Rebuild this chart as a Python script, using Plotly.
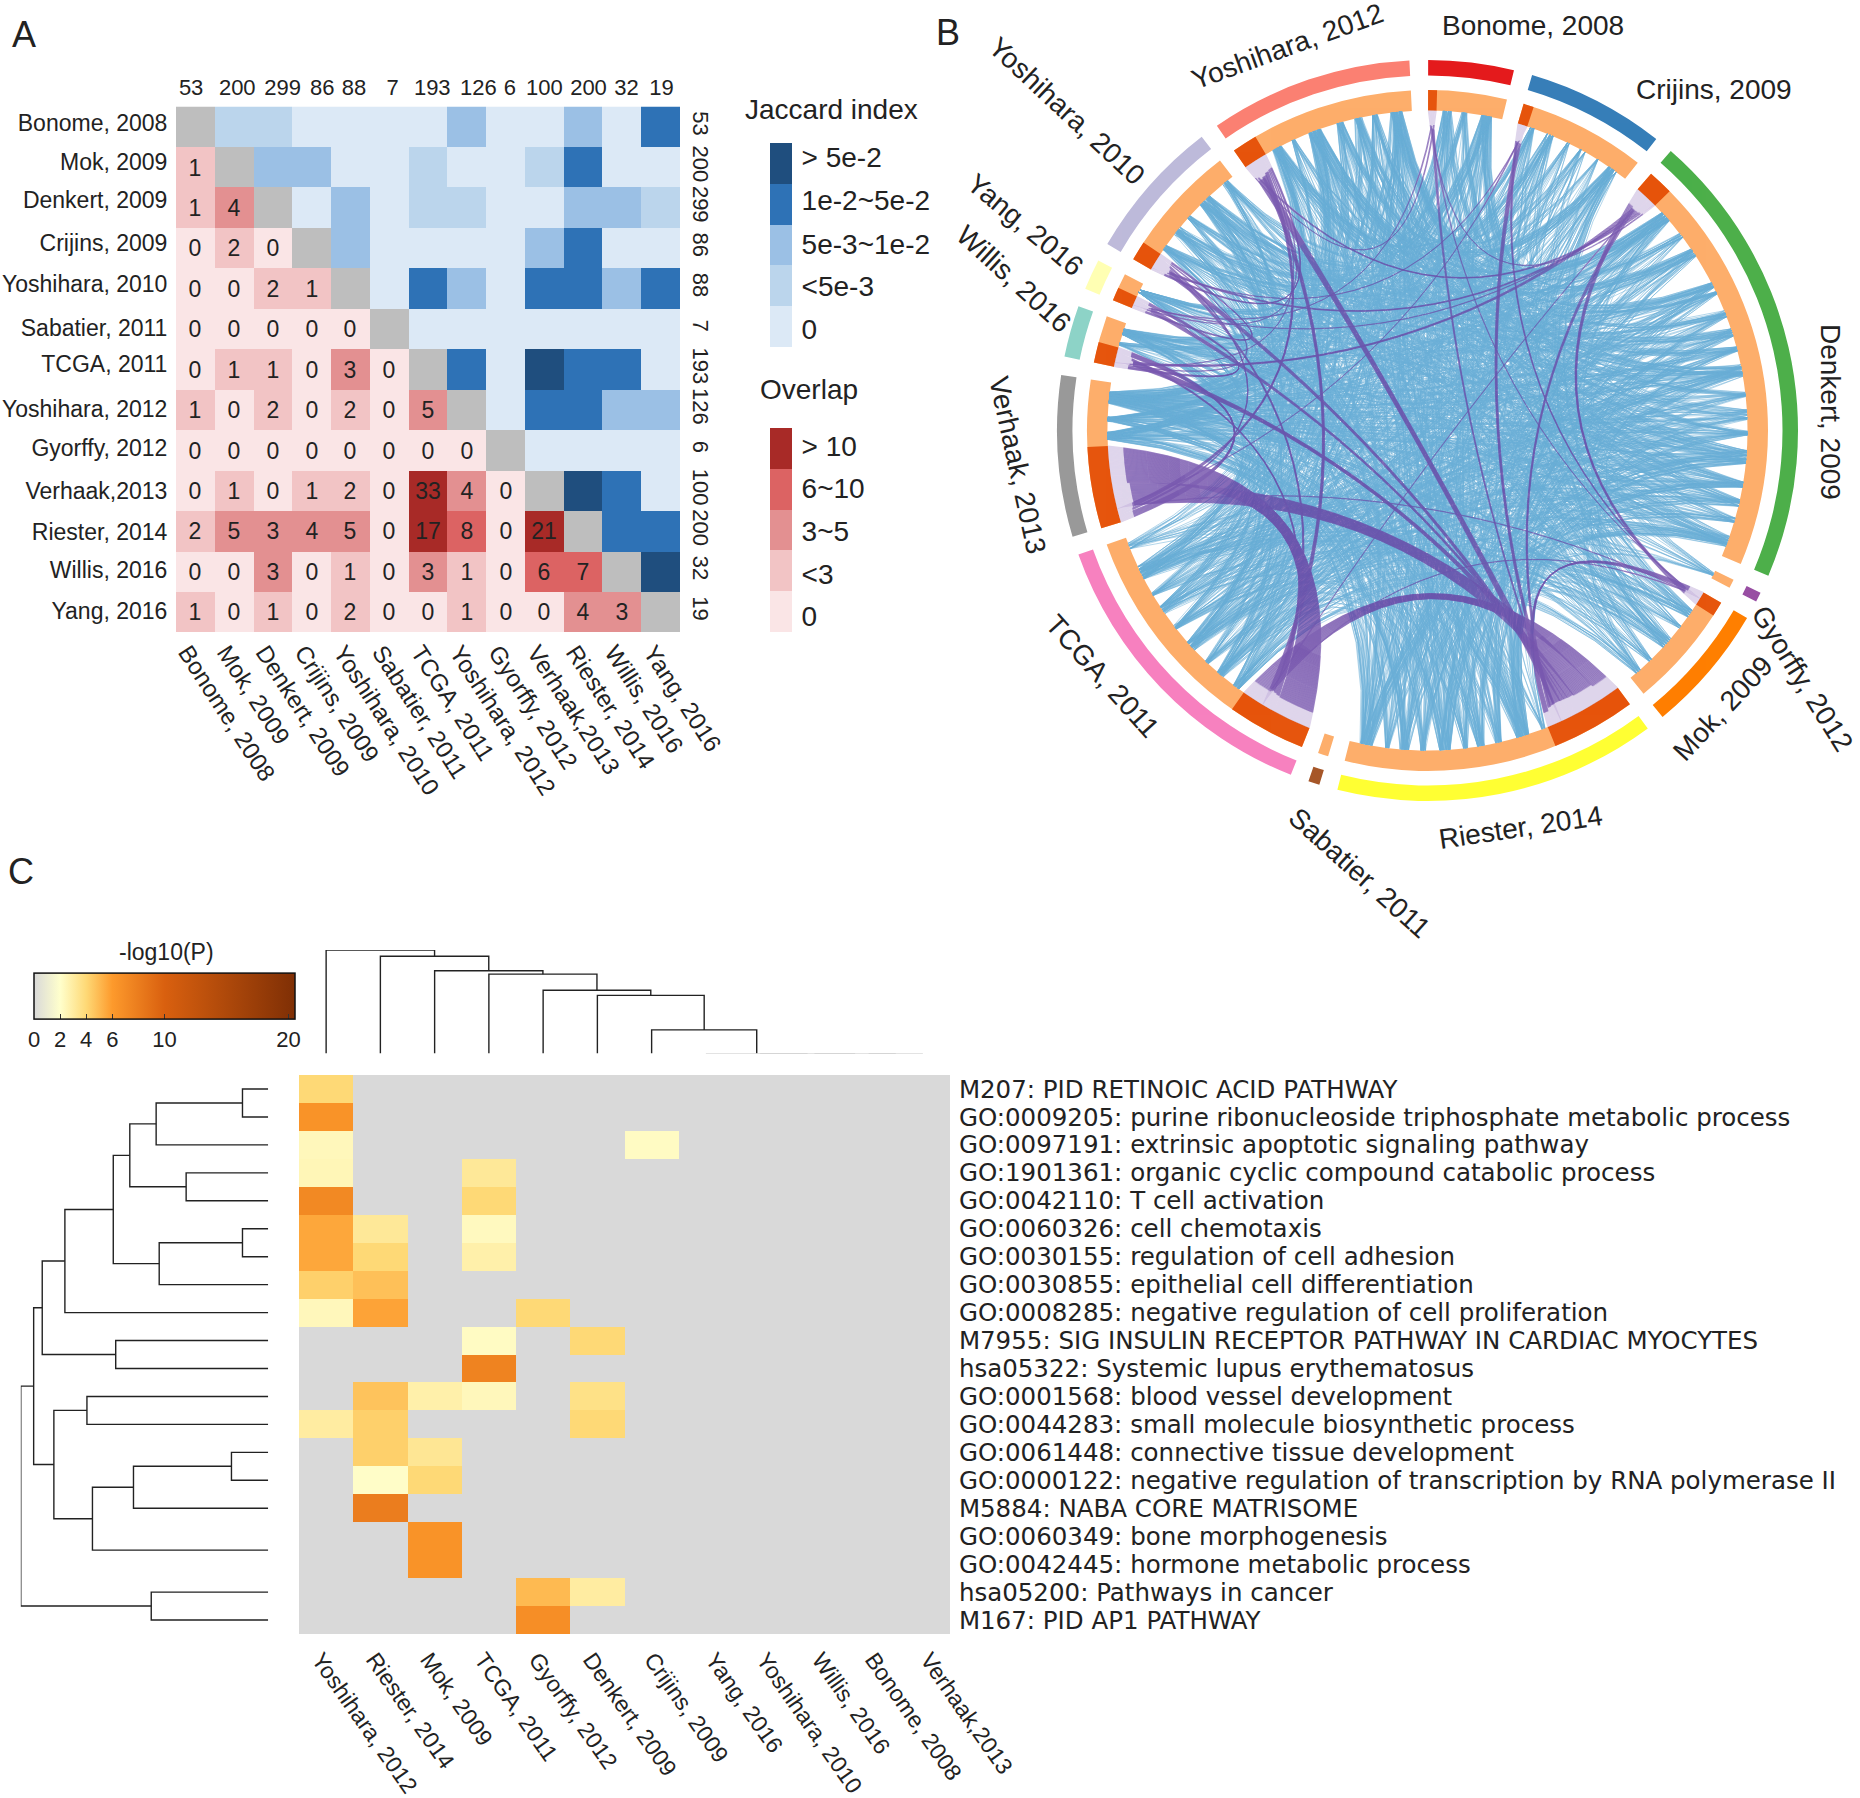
import numpy as np
import plotly.graph_objects as go

W, H = 1860, 1798
SANS = "Liberation Sans"

# ---------- Panel A data ----------
study_names = ["Bonome, 2008", "Mok, 2009", "Denkert, 2009", "Crijins, 2009", "Yoshihara, 2010",
               "Sabatier, 2011", "TCGA, 2011", "Yoshihara, 2012", "Gyorffy, 2012", "Verhaak,2013",
               "Riester, 2014", "Willis, 2016", "Yang, 2016"]
study_counts = ["53", "200", "299", "86", "88", "7", "193", "126", "6", "100", "200", "32", "19"]
# the tick labels of the source are placed a little unevenly
count_label_pos = [-0.11, 1.08, 2.25, 3.27, 4.09, 5.09, 6.11, 7.30, 8.11, 9.0, 10.14, 11.12, 12.02]
name_label_pos = [-0.09, 0.88, 1.8, 2.88, 3.88, 4.97, 5.88, 6.97, 7.94, 9.0, 10.03, 10.97, 11.97]
jaccard_rows = [
    [None, 1, 1, 0, 0, 0, 0, 2, 0, 0, 2, 0, 3],
    [None, None, 2, 2, 0, 0, 1, 0, 0, 1, 3, 0, 0],
    [None, None, None, 0, 2, 0, 1, 1, 0, 0, 2, 2, 1],
    [None, None, None, None, 2, 0, 0, 0, 0, 2, 3, 0, 0],
    [None, None, None, None, None, 0, 3, 2, 0, 3, 3, 2, 3],
    [None, None, None, None, None, None, 0, 0, 0, 0, 0, 0, 0],
    [None, None, None, None, None, None, None, 3, 0, 4, 3, 3, 0],
    [None, None, None, None, None, None, None, None, 0, 3, 3, 2, 2],
    [None, None, None, None, None, None, None, None, None, 0, 0, 0, 0],
    [None, None, None, None, None, None, None, None, None, None, 4, 3, 0],
    [None, None, None, None, None, None, None, None, None, None, None, 3, 3],
    [None, None, None, None, None, None, None, None, None, None, None, None, 4],
    [None] * 13,
]
overlap_rows = [
    [],
    [1],
    [1, 4],
    [0, 2, 0],
    [0, 0, 2, 1],
    [0, 0, 0, 0, 0],
    [0, 1, 1, 0, 3, 0],
    [1, 0, 2, 0, 2, 0, 5],
    [0, 0, 0, 0, 0, 0, 0, 0],
    [0, 1, 0, 1, 2, 0, 33, 4, 0],
    [2, 5, 3, 4, 5, 0, 17, 8, 0, 21],
    [0, 0, 3, 0, 1, 0, 3, 1, 0, 6, 7],
    [1, 0, 1, 0, 2, 0, 0, 1, 0, 0, 4, 3],
]
jaccard_legend = ["0", "<5e-3", "5e-3~1e-2", "1e-2~5e-2", "> 5e-2"]
overlap_legend = ["0", "<3", "3~5", "6~10", "> 10"]
jaccard_label_pos = [-0.06, 1.0, 2.03, 3.09, 4.15]
overlap_label_pos = [-0.12, 0.91, 1.97, 3.03, 4.06]
jaccard_colors = ["#DCE9F6", "#BBD5EC", "#9BC0E5", "#2E72B6", "#1F4E7E"]
overlap_colors = ["#FAE5E6", "#F2C4C5", "#E39091", "#DC6363", "#A82A27"]

# ---------- Panel B data ----------
circle_names = ["Bonome, 2008", "Crijins, 2009", "Denkert, 2009", "Gyorffy, 2012", "Mok, 2009", "Riester, 2014",
                "Sabatier, 2011", "TCGA, 2011", "Verhaak,2013", "Willis, 2016", "Yang, 2016",
                "Yoshihara, 2010", "Yoshihara, 2012"]
circle_genes = [53, 86, 285, 6, 80, 200, 7, 193, 100, 32, 19, 88, 126]
circle_shared = [6, 7, 17, 0, 10, 57, 0, 53, 55, 14, 9, 13, 17]
circle_colors = ["#E41A1C", "#377EB8", "#4DAF4A", "#984EA3", "#FF7F00", "#FFFF33", "#A65628",
                 "#F781BF", "#999999", "#8DD3C7", "#FFFFB3", "#BEBADA", "#FB8072"]
# estimated number of drawn blue links, one row per study, later studies in circle order
blue_links = [
    [3, 55, 2, 17, 42, 0, 36, 21, 7, 4, 17, 5],
    [14, 2, 24, 62, 0, 58, 32, 10, 7, 28, 42],
    [4, 28, 210, 0, 230, 118, 42, 24, 118, 195],
    [0, 3, 0, 4, 3, 2, 2, 2, 3],
    [7, 0, 55, 31, 10, 5, 25, 38],
    [0, 28, 76, 24, 14, 70, 100],
    [0, 0, 0, 0, 0, 0],
    [14, 17, 11, 55, 98],
    [4, 4, 24, 46],
    [2, 4, 14],
    [2, 7],
    [11],
]
# relative widths of the fans that the link ends gather into, repeated along each arc (degrees)
fan_pattern = [4.0, 2.5, 6.0, 3.0, 5.0, 2.0, 7.0, 3.5]

# ---------- Panel C data ----------
enrich_cols = ["Yoshihara, 2012", "Riester, 2014", "Mok, 2009", "TCGA, 2011", "Gyorffy, 2012", "Denkert, 2009",
               "Crijins, 2009", "Yang, 2016", "Yoshihara, 2010", "Willis, 2016", "Bonome, 2008", "Verhaak,2013"]
enrich_col_label_pos = [0, 1, 2, 3, 4, 5, 6.13, 7.26, 8.2, 9.22, 10.2, 11.22]
enrich_terms = ["M207: PID RETINOIC ACID PATHWAY",
                "GO:0009205: purine ribonucleoside triphosphate metabolic process",
                "GO:0097191: extrinsic apoptotic signaling pathway",
                "GO:1901361: organic cyclic compound catabolic process",
                "GO:0042110: T cell activation",
                "GO:0060326: cell chemotaxis",
                "GO:0030155: regulation of cell adhesion",
                "GO:0030855: epithelial cell differentiation",
                "GO:0008285: negative regulation of cell proliferation",
                "M7955: SIG INSULIN RECEPTOR PATHWAY IN CARDIAC MYOCYTES",
                "hsa05322: Systemic lupus erythematosus",
                "GO:0001568: blood vessel development",
                "GO:0044283: small molecule biosynthetic process",
                "GO:0061448: connective tissue development",
                "GO:0000122: negative regulation of transcription by RNA polymerase II",
                "M5884: NABA CORE MATRISOME",
                "GO:0060349: bone morphogenesis",
                "GO:0042445: hormone metabolic process",
                "hsa05200: Pathways in cancer",
                "M167: PID AP1 PATHWAY"]
enrich_vals = [
    [4.0, 0, 0, 0, 0, 0, 0, 0, 0, 0, 0, 0],
    [6.5, 0, 0, 0, 0, 0, 0, 0, 0, 0, 0, 0],
    [2.4, 0, 0, 0, 0, 0, 2.2, 0, 0, 0, 0, 0],
    [2.5, 0, 0, 3.2, 0, 0, 0, 0, 0, 0, 0, 0],
    [7.2, 0, 0, 4.0, 0, 0, 0, 0, 0, 0, 0, 0],
    [5.6, 3.2, 0, 2.3, 0, 0, 0, 0, 0, 0, 0, 0],
    [5.6, 4.0, 0, 2.8, 0, 0, 0, 0, 0, 0, 0, 0],
    [4.3, 4.8, 0, 0, 0, 0, 0, 0, 0, 0, 0, 0],
    [2.4, 5.7, 0, 0, 4.0, 0, 0, 0, 0, 0, 0, 0],
    [0, 0, 0, 2.2, 0, 4.0, 0, 0, 0, 0, 0, 0],
    [0, 0, 0, 7.6, 0, 0, 0, 0, 0, 0, 0, 0],
    [0, 4.7, 2.8, 2.4, 0, 3.6, 0, 0, 0, 0, 0, 0],
    [3.0, 4.3, 0, 0, 0, 4.0, 0, 0, 0, 0, 0, 0],
    [0, 4.3, 3.3, 0, 0, 0, 0, 0, 0, 0, 0, 0],
    [0, 2.1, 4.0, 0, 0, 0, 0, 0, 0, 0, 0, 0],
    [0, 8.0, 0, 0, 0, 0, 0, 0, 0, 0, 0, 0],
    [0, 0, 6.5, 0, 0, 0, 0, 0, 0, 0, 0, 0],
    [0, 0, 6.5, 0, 0, 0, 0, 0, 0, 0, 0, 0],
    [0, 0, 0, 0, 5.0, 3.0, 0, 0, 0, 0, 0, 0],
    [0, 0, 0, 0, 6.8, 0, 0, 0, 0, 0, 0, 0],
]
enrich_ticks = [0, 2, 4, 6, 10, 19.5]
enrich_tick_text = ["0", "2", "4", "6", "10", "20"]
# dendrogram merges: (node, node, height); ints are leaves, "m<k>" is the k-th merge
col_merges = [(10, 11, 0), (9, "m0", 0), (8, "m1", 0), (7, "m2", 0), (6, "m3", 41), (5, "m4", 101),
              (4, "m5", 110), (3, "m6", 138), (2, "m7", 144), (1, "m8", 169), (0, "m9", 180)]
row_merges = [(0, 1, 42), ("m0", 2, 183), (3, 4, 134), ("m1", "m2", 226), (5, 6, 42), ("m4", 7, 178),
              ("m3", "m5", 253), ("m6", 8, 332), (9, 10, 249), ("m7", "m8", 369), (11, 12, 296),
              (13, 14, 60), ("m11", 15, 220), (16, 17, 0), ("m12", "m13", 287), ("m10", "m14", 350),
              ("m9", "m15", 383), (18, 19, 191), ("m16", "m17", 404)]


def xd(a, b):
    return [a / W, b / W]


def yd(top, bottom):
    return [1 - bottom / H, 1 - top / H]


def stepped(colors):
    n = len(colors)
    out = []
    for i, c in enumerate(colors):
        out += [[i / n, c], [(i + 1) / n, c]]
    return out


fig = go.Figure()

# ---------- Panel A ----------
N = len(study_names)
idx = list(range(N))


def overlap_class(v):
    return 0 if v == 0 else 1 if v < 3 else 2 if v < 6 else 3 if v <= 10 else 4


ov_z = [[overlap_class(r[c]) if c < len(r) else None for c in range(N)] for r in overlap_rows]
ov_t = [[str(r[c]) if c < len(r) else "" for c in range(N)] for r in overlap_rows]
diag = [[1 if r == c else None for c in range(N)] for r in range(N)]

fig.add_trace(go.Heatmap(z=jaccard_rows, x=idx, y=idx, colorscale=stepped(jaccard_colors), zmin=-0.5, zmax=4.5,
                         showscale=False, hoverinfo="skip", xaxis="x", yaxis="y"))
fig.add_trace(go.Heatmap(z=ov_z, x=idx, y=idx, colorscale=stepped(overlap_colors), zmin=-0.5, zmax=4.5,
                         showscale=False, hoverinfo="skip", text=ov_t, texttemplate="%{text}",
                         textfont=dict(size=23, color="#222222", family=SANS), xaxis="x", yaxis="y"))
fig.add_trace(go.Heatmap(z=diag, x=idx, y=idx, colorscale=[[0, "#BEBEBE"], [1, "#BEBEBE"]],
                         showscale=False, hoverinfo="skip", xaxis="x2", yaxis="y2"))
fig.add_trace(go.Heatmap(z=[[i] for i in range(5)], y=list(range(5)), x=[0], colorscale=stepped(jaccard_colors),
                         zmin=-0.5, zmax=4.5, showscale=False, hoverinfo="skip", xaxis="x3", yaxis="y3"))
fig.add_trace(go.Heatmap(z=[[i] for i in range(5)], y=list(range(5)), x=[0], colorscale=stepped(overlap_colors),
                         zmin=-0.5, zmax=4.5, showscale=False, hoverinfo="skip", xaxis="x4", yaxis="y4"))

# ---------- Panel B ----------
R_OUT = (355, 370.5)
R_IN = (320, 340.5)
gap_deg = 2.9
deg_per_gene = (360 - gap_deg * len(circle_genes)) / sum(circle_genes)
starts, ends = [], []
a = 0.1
for g in circle_genes:
    starts.append(a)
    ends.append(a + g * deg_per_gene)
    a = ends[-1] + gap_deg
starts, ends = np.array(starts), np.array(ends)
dark_ends = starts + np.array(circle_shared) * deg_per_gene


def ring(s, e, rr, colors):
    return go.Barpolar(theta=(s + e) / 2, width=e - s, base=rr[0], r=[rr[1] - rr[0]] * len(s),
                       marker=dict(color=colors, line=dict(width=0)), hoverinfo="skip", subplot="polar", showlegend=False)


def xy(theta, r=320.0):
    t = np.radians(theta)
    return r * np.sin(t), r * np.cos(t)


def chords(th_a, th_b, ctrl_a=None, ctrl_b=None, ts=None):
    """quadratic curve between rim angles, bent towards the centre; returned as r/theta with gaps"""
    th_a, th_b = np.asarray(th_a), np.asarray(th_b)
    ca = th_a if ctrl_a is None else np.asarray(ctrl_a)
    cb = th_b if ctrl_b is None else np.asarray(ctrl_b)
    ax_, ay_ = xy(th_a)
    bx, by = xy(th_b)
    cax, cay = xy(ca)
    cbx, cby = xy(cb)
    mx, my = 0.25 * (cax + cbx) / 2, 0.25 * (cay + cby) / 2
    t = (np.linspace(0, 1, 11) if ts is None else np.asarray(ts))[None, :]
    X = (1 - t) ** 2 * ax_[:, None] + 2 * t * (1 - t) * mx[:, None] + t ** 2 * bx[:, None]
    Y = (1 - t) ** 2 * ay_[:, None] + 2 * t * (1 - t) * my[:, None] + t ** 2 * by[:, None]
    X = np.hstack([X, np.full((len(X), 1), np.nan)]).ravel()
    Y = np.hstack([Y, np.full((len(Y), 1), np.nan)]).ravel()
    return np.round(np.hypot(X, Y), 1), np.round(np.degrees(np.arctan2(X, Y)) % 360, 2)


# blue links: ends gather in fans of uneven width along the pale arc of each study
FAN_FILL = 0.38
pair_list = []
for i, row in enumerate(blue_links):
    for k, cnt in enumerate(row):
        pair_list += [(i, i + 1 + k)] * cnt
ends_of = {i: [] for i in range(len(circle_genes))}
for li, (i, j) in enumerate(pair_list):
    ends_of[i].append((li, 0))
    ends_of[j].append((li, 1))
th = np.zeros((len(pair_list), 2))
for s, lst in ends_of.items():
    T = len(lst)
    if T == 0:
        continue
    stride = max(1, int(T * 0.382)) + s
    span = ends[s] - dark_ends[s]
    edges = [0.0]
    pi_ = s
    while edges[-1] < span:
        edges.append(edges[-1] + fan_pattern[pi_ % len(fan_pattern)])
        pi_ += 1
    edges = np.array(edges) * span / edges[-1]
    for k, (li, side) in enumerate(lst):
        # a triangular-number walk along the arc keeps links of one pair from running parallel
        p = (((k * (k + 1) // 2 * stride) % T) + 0.5) / T * span
        c = min(np.searchsorted(edges, p, side="right") - 1, len(edges) - 2)
        lo_, hi_ = edges[c], edges[c + 1]
        mid = (lo_ + hi_) / 2
        th[li, side] = dark_ends[s] + mid + (p - mid) * FAN_FILL
r_b, t_b = chords(th[:, 0], th[:, 1])
fig.add_trace(go.Scatterpolar(r=r_b, theta=t_b, mode="lines", line=dict(color="#6BAED6", width=0.5),
                              hoverinfo="skip", subplot="polar", showlegend=False, connectgaps=False))

# purple links: the overlap table, each shared gene drawn as a few strands between the dark arcs
order = [study_names.index(n) for n in circle_names]
M = len(circle_names)
ov_pairs = {}
for pi in range(M):
    for pj in range(pi + 1, M):
        a_i, b_i = order[pi], order[pj]
        hi, lo = max(a_i, b_i), min(a_i, b_i)
        v = overlap_rows[hi][lo]
        if v > 0:
            ov_pairs[(pi, pj)] = v
slots = {}
for s in range(M):
    partners = [(p, v) for p_key, v in ov_pairs.items() for p in p_key if s in p_key and p != s]
    partners.sort(key=lambda q: (q[0] - s) % M)
    tot = sum(v for _, v in partners)
    pos = starts[s]
    for p, v in partners:
        w = (dark_ends[s] - starts[s]) * v / tot
        slots[(s, p)] = (pos, pos + w)
        pos += w
pa, pb, ca, cb = [], [], [], []
STRANDS = 2
for (i, j), v in ov_pairs.items():
    n = v * STRANDS
    fr = (np.arange(n) + 0.5) / n
    ai, aj = slots[(i, j)]
    bi, bj = slots[(j, i)]
    pa += list(ai + fr * (aj - ai))
    pb += list(bj - fr * (bj - bi))
    ca += [(ai + aj) / 2] * n
    cb += [(bi + bj) / 2] * n
for ts in (np.linspace(0, 0.15, 5), np.linspace(0.85, 1, 5)):
    r_p, t_p = chords(pa, pb, ca, cb, ts=ts)
    fig.add_trace(go.Scatterpolar(r=r_p, theta=t_p, mode="lines", line=dict(color="#C5B3DC", width=1.2), opacity=0.55,
                                  hoverinfo="skip", subplot="polar", showlegend=False, connectgaps=False))
r_p, t_p = chords(pa, pb, ca, cb, ts=np.linspace(0.03, 0.97, 21))
fig.add_trace(go.Scatterpolar(r=r_p, theta=t_p, mode="lines", line=dict(color="#6A46A6", width=0.6), opacity=0.85,
                              hoverinfo="skip", subplot="polar", showlegend=False, connectgaps=False))

fig.add_trace(ring(starts, ends, R_OUT, circle_colors))
fig.add_trace(ring(starts, ends, R_IN, ["#FDAE6B"] * M))
has_dark = np.array(circle_shared) > 0
fig.add_trace(ring(starts[has_dark], dark_ends[has_dark], R_IN, ["#E6550D"] * int(has_dark.sum())))

# ---------- Panel C ----------
enrich_scale = [[0, "#D9D9D9"], [2 / 20, "#FFFFCC"], [4 / 20, "#FED976"], [6 / 20, "#FD9A2C"],
                [10 / 20, "#D9600F"], [1, "#7F2F05"]]
fig.add_trace(go.Heatmap(
    z=enrich_vals, x=list(range(12)), y=list(range(20)), colorscale=enrich_scale, zmin=0, zmax=20, hoverinfo="skip",
    xaxis="x5", yaxis="y5",
    colorbar=dict(orientation="h", x=34 / W, xanchor="left", y=1 - 1058 / H, yanchor="bottom", xpad=0, ypad=0,
                  lenmode="pixels", len=261, thickness=46, thicknessmode="pixels", outlinewidth=1.5,
                  outlinecolor="#111111", tickvals=enrich_ticks, ticktext=enrich_tick_text,
                  ticks="inside", ticklen=5, tickcolor="#333333", tickfont=dict(size=22, family=SANS, color="#222222"))))


def dendro(merges, n_leaves):
    """return position/height polylines of a dendrogram from its merge list"""
    pos = {i: float(i) for i in range(n_leaves)}
    hgt = {i: 0.0 for i in range(n_leaves)}
    P, V, P0, V0 = [], [], [], []
    for k, (a_, b_, h) in enumerate(merges):
        pa_, pb_ = pos[a_], pos[b_]
        tgtP, tgtV = (P, V) if h > 0 else (P0, V0)
        tgtP += [pa_, pa_, pb_, pb_, None]
        tgtV += [hgt[a_], h, h, hgt[b_], None]
        pos[f"m{k}"] = (pa_ + pb_) / 2
        hgt[f"m{k}"] = h
    return P, V, P0, V0


cp, cv, cp0, cv0 = dendro(col_merges, 12)
fig.add_trace(go.Scatter(x=cp, y=cv, mode="lines", line=dict(color="#222222", width=1.4), hoverinfo="skip",
                         xaxis="x6", yaxis="y6", showlegend=False, cliponaxis=False))
fig.add_trace(go.Scatter(x=cp0, y=cv0, mode="lines", line=dict(color="#C8C8C8", width=1.2), hoverinfo="skip",
                         xaxis="x6", yaxis="y6", showlegend=False, cliponaxis=False))
rp, rv, _, _ = dendro(row_merges, 20)
fig.add_trace(go.Scatter(x=rv, y=rp, mode="lines", line=dict(color="#222222", width=1.4), hoverinfo="skip",
                         xaxis="x7", yaxis="y7", showlegend=False, cliponaxis=False))


# ---------- Layout ----------
CLEAR = "rgba(0,0,0,0)"


def ax(**kw):
    base = dict(showgrid=False, zeroline=False, showline=False, ticks="", fixedrange=True)
    base.update(kw)
    return base


A_X = xd(176, 680)
A_Y = yd(106.5, 632)
C_X = xd(299, 950)
C_Y = yd(1075, 1634)
rng_a = [-0.5, N - 0.5]
rng_ar = [N - 0.5, -0.5]
tf_a = dict(size=23, family=SANS, color="#222222")
hidden = dict(showticklabels=False)
layout = dict(
    width=W, height=H, margin=dict(l=0, r=0, t=0, b=0, autoexpand=False), paper_bgcolor="white",
    plot_bgcolor="rgba(0,0,0,0)", showlegend=False, font=dict(family=SANS),
    xaxis=ax(domain=A_X, range=rng_a, tickvals=idx, ticktext=study_names, tickangle=57, ticks="outside", ticklen=1,
             tickcolor=CLEAR, ticklabelstandoff=-5, ticklabelshift=-8,
             tickfont=dict(size=24, family=SANS, color="#222222"), anchor="y", side="bottom"),
    yaxis=ax(domain=A_Y, range=rng_ar, tickvals=name_label_pos, ticktext=study_names, ticks="outside", ticklen=3,
             tickcolor=CLEAR, tickfont=tf_a, anchor="x"),
    xaxis2=ax(domain=A_X, range=rng_a, tickvals=count_label_pos, ticktext=study_counts, tickangle=0, side="top",
              ticks="outside", ticklen=2, tickcolor=CLEAR, tickfont=dict(size=22, family=SANS, color="#222222"),
              overlaying="x", anchor="y2"),
    yaxis2=ax(domain=A_Y, range=rng_ar, tickvals=idx, ticktext=study_counts, tickangle=90, side="right", ticks="outside",
              ticklen=3, tickcolor=CLEAR, tickfont=dict(size=22, family=SANS, color="#222222"), overlaying="y", anchor="x2"),
    xaxis3=ax(domain=xd(770, 792), range=[-0.5, 0.5], anchor="y3", **hidden),
    yaxis3=ax(domain=yd(143, 347), range=[-0.5, 4.5], tickvals=jaccard_label_pos, ticktext=jaccard_legend,
              side="right", anchor="x3", ticks="outside", ticklen=3, tickcolor=CLEAR,
              tickfont=dict(size=28, family=SANS, color="#222222")),
    xaxis4=ax(domain=xd(770, 792), range=[-0.5, 0.5], anchor="y4", **hidden),
    yaxis4=ax(domain=yd(428, 632), range=[-0.5, 4.5], tickvals=overlap_label_pos, ticktext=overlap_legend,
              side="right", anchor="x4", ticks="outside", ticklen=3, tickcolor=CLEAR,
              tickfont=dict(size=28, family=SANS, color="#222222")),
    xaxis5=ax(domain=C_X, range=[-0.5, 11.5], tickvals=enrich_col_label_pos, ticktext=enrich_cols, tickangle=55,
              ticks="outside", ticklen=2, tickcolor=CLEAR, ticklabelshift=-6,
              tickfont=dict(size=23, family=SANS, color="#222222"), anchor="y5"),
    yaxis5=ax(domain=C_Y, range=[19.5, -0.5], tickvals=list(range(20)), ticktext=enrich_terms, side="right",
              ticks="outside", ticklen=3, tickcolor=CLEAR, tickfont=dict(size=24.5, family="DejaVu Sans", color="#222222"),
              anchor="x5"),
    xaxis6=ax(domain=C_X, range=[-0.5, 11.5], anchor="y6", **hidden),
    yaxis6=ax(domain=yd(950, 1053.5), range=[0, 180], anchor="x6", **hidden),
    xaxis7=ax(domain=xd(20.8, 268.2), range=[404, 0], anchor="y7", **hidden),
    yaxis7=ax(domain=C_Y, range=[19.5, -0.5], anchor="x7", **hidden),
    polar=dict(domain=dict(x=xd(1427.5 - 372, 1427.5 + 372), y=yd(58.5, 802.5)), bgcolor="rgba(0,0,0,0)", bargap=0,
               barmode="overlay",
               radialaxis=dict(range=[0, 372], visible=False),
               angularaxis=dict(direction="clockwise", rotation=90, visible=False, thetaunit="degrees")),
)


def note(text, x, y, size=28, angle=0, family=SANS):
    return dict(text=text, x=x / W, y=1 - y / H, xref="paper", yref="paper", showarrow=False, textangle=angle,
                font=dict(size=size, family=family, color="#222222"), xanchor="center", yanchor="middle")


layout["annotations"] = [
    note("A", 24, 34, 36), note("B", 948, 33, 36), note("C", 21, 872, 36),
    note("Jaccard index", 831, 109), note("Overlap", 809, 390), note("-log10(P)", 166, 952, 23),
    note("Bonome, 2008", 1533, 25), note("Crijins, 2009", 1714, 90), note("Denkert, 2009", 1831, 412, angle=90),
    note("Gyorffy, 2012", 1802, 679, angle=58), note("Mok, 2009", 1723, 709, angle=-47),
    note("Riester, 2014", 1520, 827, angle=-8.5), note("Sabatier, 2011", 1359, 873, angle=42),
    note("TCGA, 2011", 1103, 676, angle=48), note("Verhaak, 2013", 1017, 465, angle=77.6),
    note("Willis, 2016", 1013, 279, angle=42.5), note("Yang, 2016", 1025, 224, angle=40),
    note("Yoshihara, 2010", 1066, 111, angle=43), note("Yoshihara, 2012", 1287, 47, angle=-20),
]
fig.update_layout(**layout)
fig.write_html("out.html", config=dict(displayModeBar=False), post_script="document.body.style.margin='0';")
